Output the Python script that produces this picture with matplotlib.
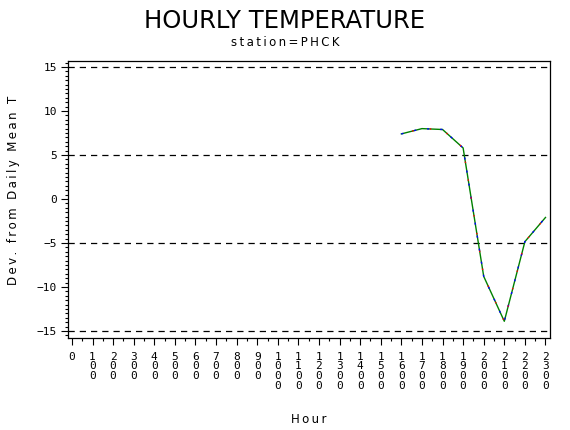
import numpy as np
import matplotlib
matplotlib.use('Agg')
import matplotlib.pyplot as plt
from matplotlib.ticker import MultipleLocator

#===数据
hours = [1600, 1700, 1800, 1900, 2000, 2100, 2200, 2300]
dev = [7.4, 8.0, 7.9, 5.8, -8.8, -13.9, -4.85, -2.1]
tick_hours = list(range(0, 2400, 100))
ref_lines = [15, 5, -5, -15]

def spaced(s):
    # SAS 字体字距很宽，用细空格撑开
    return '\u2009'.join(s)

fig = plt.figure(figsize=(5.7, 4.3), dpi=100)
ax = fig.add_axes([0.1193, 0.214, 0.9653 - 0.1193, 0.858 - 0.214])

#===参考虚线
for r in ref_lines:
    ax.axhline(r, color='black', lw=0.9, ls=(0, (5, 4)), zorder=1)

#===曲线，以绿色为主，夹杂红蓝
ax.plot(hours, dev, color='green', lw=1.0, zorder=3)
ax.plot(hours, dev, color='blue', lw=1.0, ls=(0, (1.5, 8)), zorder=4)
ax.plot(hours, dev, color='red', lw=1.0, ls=(5, (1, 12)), zorder=4)

ax.set_xlim(-19, 2323)
ax.set_ylim(-15.8, 15.68)

mono = 'DejaVu Sans Mono'
ax.set_xticks(tick_hours)
ax.set_xticklabels(['\n'.join(str(h)) for h in tick_hours],
                   family=mono, fontsize=8, linespacing=0.95, va='top')
ax.xaxis.set_minor_locator(MultipleLocator(50))
ax.set_yticks([-15, -10, -5, 0, 5, 10, 15])
ax.set_yticklabels(['\u221215', '\u221210', '\u22125', '0', '5', '10', '15'],
                   family=mono, fontsize=8)
ax.yaxis.set_minor_locator(MultipleLocator(0.5))

ax.tick_params(axis='both', which='major', direction='out', length=5, width=0.8, pad=5)
ax.tick_params(axis='both', which='minor', direction='out', length=2.5, width=0.8)
ax.tick_params(axis='y', which='major', pad=3)

for s in ax.spines.values():
    s.set_linewidth(0.9)

ax.set_xlabel(spaced('Hour'), fontsize=8.5, labelpad=16)
ax.set_ylabel(spaced('Dev. from Daily Mean T'), fontsize=8.5)
ax.yaxis.set_label_coords(-0.1, 0.534)

fig.text(0.5, 0.952, 'HOURLY TEMPERATURE', ha='center', va='center', fontsize=17.5)
fig.text(0.5, 0.9, spaced('station=PHCK'), ha='center', va='center', fontsize=8.5)

fig.savefig('out.png', dpi=100)
